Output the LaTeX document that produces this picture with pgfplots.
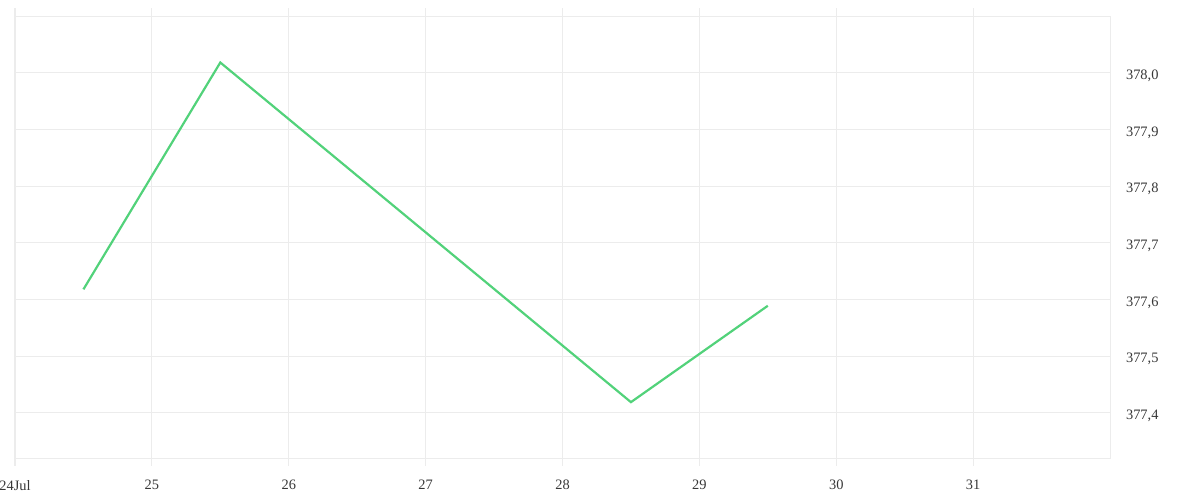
\documentclass[border=0pt]{standalone}
\usepackage{pgfplots}
\pgfplotsset{compat=1.18}
\usepackage{fontspec}
\setmainfont{Liberation Serif}
\definecolor{gridc}{RGB}{236,236,236}
\definecolor{linec}{RGB}{82,210,122}
\definecolor{txt}{RGB}{55,55,55}
\begin{document}
\begin{tikzpicture}
\begin{axis}[
  scale only axis,
  at={(7.5pt,21pt)}, anchor=south west,
  width=547.5pt, height=221pt,
  xmin=24, xmax=32, ymin=377.3205, ymax=378.1,
  xtick={24,25,26,27,28,29,30,31},
  xticklabels={24Jul,25,26,27,28,29,30,31},
  ytick={377.4,377.5,377.6,377.7,377.8,377.9,378.0},
  yticklabels={{377,4},{377,5},{377,6},{377,7},{377,8},{377,9},{378,0}},
  yticklabel pos=right,
  ytick style={draw=none},
  xtick align=outside,
  xtick pos=both,
  xticklabel pos=bottom,
  major tick length=4pt,
  xtick style={draw=gridc, line width=0.5pt},
  grid=major,
  grid style={draw=gridc, line width=0.5pt},
  axis line style={draw=gridc, line width=0.5pt},
  tick label style={font=\fontsize{7.2}{8}\selectfont, text=txt},
  yticklabel style={anchor=west, xshift=4.5pt, yshift=-1.5pt},
  xticklabel style={yshift=-3.5pt},
  /pgf/number format/assume math mode=true,
]
\addplot[linec, line width=1.1pt, mark=none] coordinates {
  (24.5,377.618) (25.5,378.018) (28.5,377.419) (29.5,377.589)
};
\end{axis}
\pgfresetboundingbox
\path (0,0) rectangle (600pt,250pt);
\end{tikzpicture}
\end{document}
